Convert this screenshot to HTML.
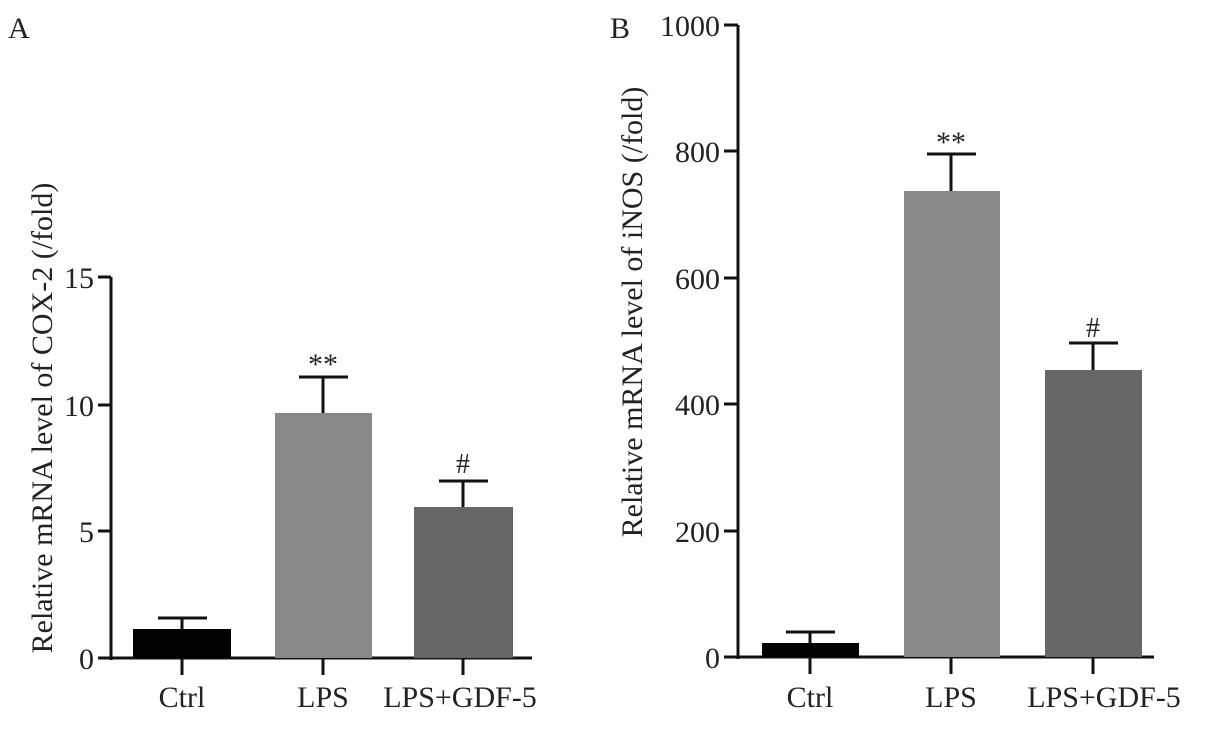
<!DOCTYPE html>
<html><head><meta charset="utf-8"><style>body{margin:0;background:#fff}svg{display:block}text{font-family:"Liberation Serif",serif;fill:#222}</style></head>
<body>
<svg width="1205" height="749" viewBox="0 0 1205 749">
<text x="8" y="38" font-size="30">A</text>
<text x="610" y="38" font-size="30">B</text>
<g stroke="#111" stroke-width="3" fill="none">
<line x1="111" y1="277" x2="111" y2="660"/>
<line x1="109" y1="658" x2="532" y2="658"/>
<line x1="98" y1="277" x2="111" y2="277"/><line x1="98" y1="405" x2="111" y2="405"/>
<line x1="98" y1="531" x2="111" y2="531"/><line x1="98" y1="658" x2="111" y2="658"/>
<line x1="182" y1="658" x2="182" y2="675"/><line x1="323" y1="658" x2="323" y2="675"/><line x1="463" y1="658" x2="463" y2="675"/>
</g>
<rect x="133" y="629" width="98" height="29" fill="#000"/>
<rect x="275" y="413" width="97" height="245" fill="#888"/>
<rect x="414" y="507" width="99" height="151" fill="#666"/>
<g stroke="#111" stroke-width="3">
<line x1="182" y1="629" x2="182" y2="618"/><line x1="158" y1="618" x2="207" y2="618"/>
<line x1="323" y1="413" x2="323" y2="377"/><line x1="299" y1="377" x2="348" y2="377"/>
<line x1="463" y1="507" x2="463" y2="481"/><line x1="439" y1="481" x2="488" y2="481"/>
</g>
<text x="323" y="374" font-size="30" text-anchor="middle" fill="#555">**</text>
<text x="463" y="473" font-size="28" text-anchor="middle" fill="#555">#</text>
<g font-size="30" text-anchor="end">
<text x="94" y="288">15</text><text x="94" y="416">10</text><text x="94" y="542">5</text><text x="94" y="669">0</text>
</g>
<g font-size="30" text-anchor="middle">
<text x="182" y="707">Ctrl</text><text x="323" y="707">LPS</text><text x="460" y="707">LPS+GDF-5</text>
</g>
<text transform="translate(52,418) rotate(-90)" font-size="30" text-anchor="middle">Relative mRNA level of COX-2 (/fold)</text>

<g stroke="#111" stroke-width="3" fill="none">
<line x1="738" y1="25" x2="738" y2="659"/>
<line x1="736" y1="657" x2="1154" y2="657"/>
<line x1="724" y1="25" x2="738" y2="25"/><line x1="724" y1="151" x2="738" y2="151"/>
<line x1="724" y1="278" x2="738" y2="278"/><line x1="724" y1="404" x2="738" y2="404"/>
<line x1="724" y1="531" x2="738" y2="531"/><line x1="724" y1="657" x2="738" y2="657"/>
<line x1="810" y1="657" x2="810" y2="674"/><line x1="951" y1="657" x2="951" y2="674"/><line x1="1093" y1="657" x2="1093" y2="674"/>
</g>
<rect x="762" y="643" width="97" height="14" fill="#000"/>
<rect x="904" y="191" width="96" height="466" fill="#888"/>
<rect x="1045" y="370" width="97" height="287" fill="#666"/>
<g stroke="#111" stroke-width="3">
<line x1="810" y1="643" x2="810" y2="632"/><line x1="786" y1="632" x2="835" y2="632"/>
<line x1="951" y1="191" x2="951" y2="154"/><line x1="927" y1="154" x2="976" y2="154"/>
<line x1="1093" y1="370" x2="1093" y2="343"/><line x1="1069" y1="343" x2="1118" y2="343"/>
</g>
<text x="951" y="152" font-size="30" text-anchor="middle" fill="#555">**</text>
<text x="1093" y="337" font-size="28" text-anchor="middle" fill="#555">#</text>
<g font-size="30" text-anchor="end">
<text x="720" y="36">1000</text><text x="720" y="162">800</text><text x="720" y="289">600</text>
<text x="720" y="415">400</text><text x="720" y="542">200</text><text x="720" y="668">0</text>
</g>
<g font-size="30" text-anchor="middle">
<text x="810" y="707">Ctrl</text><text x="951" y="707">LPS</text><text x="1104" y="707">LPS+GDF-5</text>
</g>
<text transform="translate(642,312) rotate(-90)" font-size="30" text-anchor="middle">Relative mRNA level of iNOS (/fold)</text>
</svg>
</body></html>
